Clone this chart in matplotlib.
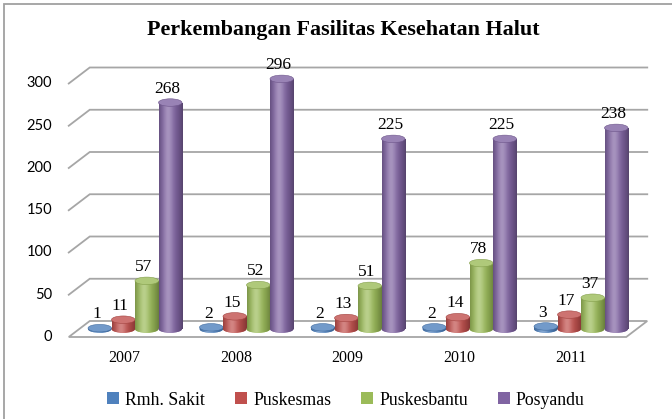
import numpy as np
import matplotlib

matplotlib.use("Agg")
import matplotlib.pyplot as plt
from matplotlib.patches import Ellipse, Patch, Polygon, Rectangle
from matplotlib.colors import to_rgb

# ---- data ----
years = ["2007", "2008", "2009", "2010", "2011"]
series = ["Rmh. Sakit", "Puskesmas", "Puskesbantu", "Posyandu"]
rmh_sakit = [1, 2, 2, 2, 3]
puskesmas = [11, 15, 13, 14, 17]
puskesbantu = [57, 52, 51, 78, 37]
posyandu = [268, 296, 225, 225, 238]
y_ticks = [0, 50, 100, 150, 200, 250, 300]
colors = ["#4F81BD", "#C0504D", "#9BBB59", "#8064A2"]

# ---- layout (pixel geometry of the fake 3D frame) ----
W, H = 672, 419
PX_X0, PX_SX = 135.0, 111.5      # px of group 0 centre (mid depth), px per group
PX_Y0, PX_SY = 329.0, 0.845      # px of value 0 (mid depth), px per unit
DX, DY = 10.5 / PX_SX, 8.0 / PX_SY   # half depth in data units
BW = 23.5 / PX_SX                # bar width
CAP = 7.5 / PX_SY                # ellipse height
GRID = "#A6A6A6"
SERIF = "Liberation Serif"


def shade(base, n=40):
    """Horizontal cylinder gradient: highlight left of centre, darker edges."""
    b = np.array(to_rgb(base))
    t = np.linspace(0, 1, n)
    light = 0.30 * np.exp(-((t - 0.38) / 0.22) ** 2)
    dark = np.where(t > 0.38, 0.32 * ((t - 0.38) / 0.62) ** 2, 0.2 * ((0.38 - t) / 0.38) ** 2)
    c = b[None, :] * (1 - dark[:, None]) + (1 - b[None, :]) * light[:, None]
    return np.clip(c, 0, 1)[None, :, :]


fig = plt.figure(figsize=(W / 100, H / 100), dpi=100)
ax = fig.add_axes([0, 0, 1, 1])
ax.axis("off")

x_lo, x_hi = -0.5, len(years) - 0.5

# floor + back gridlines
floor = Polygon([(x_lo - DX, -DY), (x_hi - DX, -DY), (x_hi + DX, DY), (x_lo + DX, DY)],
                closed=True, fc="white", ec=GRID, lw=1.3, zorder=1)
ax.add_patch(floor)
for v in y_ticks[1:]:
    ax.plot([x_lo - DX, x_lo + DX, x_hi + DX], [v - DY, v + DY, v + DY],
            color=GRID, lw=1.3, zorder=1, solid_joinstyle="miter")
for v in y_ticks:
    ax.text(x_lo - DX - 0.15, v - DY, str(v), ha="right", va="center",
            fontsize=10.5, family="Lato", color="black")

for i, yr in enumerate(years):
    ax.text(i - DX, -DY - 21 / PX_SY, yr, ha="center", va="center",
            fontsize=11.5, family=SERIF)

# cylinders
z = 2
for j, vals in enumerate([rmh_sakit, puskesmas, puskesbantu, posyandu]):
    col = colors[j]
    grad = shade(col)
    for i, v in enumerate(vals):
        xc = i + (j - 1.5) * BW
        bottom = Ellipse((xc, 0), BW, CAP, fc=col, ec="none", zorder=z)
        ax.add_patch(bottom)
        im = ax.imshow(grad, extent=(xc - BW / 2, xc + BW / 2, -CAP, v), aspect="auto",
                       zorder=z + 0.1, interpolation="bilinear")
        im.set_clip_path(bottom)
        body = ax.bar(xc, v, width=BW, bottom=0, color=col, lw=0, zorder=z + 0.2)[0]
        im2 = ax.imshow(grad, extent=(xc - BW / 2, xc + BW / 2, 0, v), aspect="auto",
                        zorder=z + 0.3, interpolation="bilinear")
        im2.set_clip_path(body)
        b = np.array(to_rgb(col))
        ax.add_patch(Ellipse((xc, v), BW, CAP, fc=b * 0.8 + 0.2, ec=b * 0.85,
                             lw=0.4, zorder=z + 0.4))
        ax.text(xc - 3 / PX_SX, v + 11.5, str(v), ha="center", va="baseline",
                fontsize=12.5, family=SERIF, zorder=10)
        z += 1

ax.set_xlim(-PX_X0 / PX_SX, (W - PX_X0) / PX_SX)
ax.set_ylim((PX_Y0 - H) / PX_SY, PX_Y0 / PX_SY)

fig.text(343 / W, 1 - 30 / H, "Perkembangan Fasilitas Kesehatan Halut", ha="center",
         va="center", fontsize=15.8, fontweight="bold", family=SERIF)

handles = [Patch(fc=c, ec="none") for c in colors]
ax.legend(handles, series, loc="center", bbox_to_anchor=(0.515, 1 - 400 / H), ncol=4,
          frameon=False, handlelength=0.65, handleheight=0.65, handletextpad=0.35,
          columnspacing=1.7, prop={"family": SERIF, "size": 12.8})

fig.add_artist(Rectangle((4 / W, -0.05), 1.1, 1 - 4 / H + 0.05, transform=fig.transFigure,
                         fill=False, ec="#A0A0A0", lw=1.3))

fig.savefig("out.png", dpi=100)
